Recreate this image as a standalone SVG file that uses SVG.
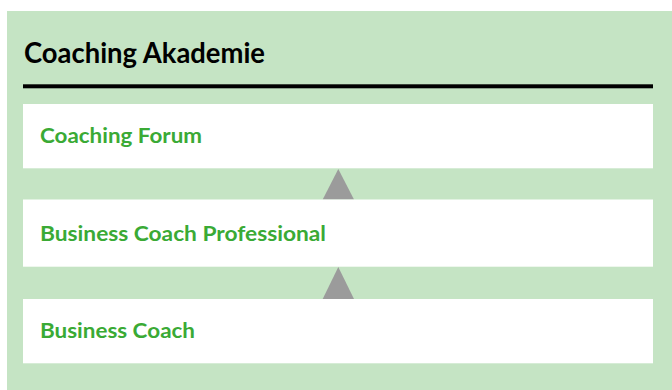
<svg xmlns="http://www.w3.org/2000/svg" width="672" height="390" viewBox="0 0 672 390">
<style>
.bg{fill:#c5e4c4}
.box{fill:#ffffff}
.lbl{font-family:Lato,"Open Sans","Liberation Sans",sans-serif;font-weight:bold;font-size:21px;fill:#3aaa35}
.title{font-family:Lato,"Open Sans","Liberation Sans",sans-serif;font-weight:bold;font-size:28px;fill:#000000}
.tri{fill:#9b9b9b}
</style>
<rect width="672" height="390" fill="#ffffff"/>
<g id="container">
<rect class="bg" x="7" y="11" width="665" height="379"/>
<text class="title" x="24" y="63" textLength="241" lengthAdjust="spacingAndGlyphs">Coaching Akademie</text>
<rect x="23" y="84.3" width="630" height="4" fill="#000000"/>
</g>
<g id="connectors">
<polygon class="tri" points="338.3,169 322.7,199.5 354,199.5"/>
<polygon class="tri" points="338.3,267 322.7,299 354,299"/>
</g>
<g id="coaching-forum">
<rect class="box" x="23" y="104" width="630" height="64.3"/>
<text class="lbl" x="40" y="143.3" textLength="162" lengthAdjust="spacingAndGlyphs">Coaching Forum</text>
</g>
<g id="business-coach-professional">
<rect class="box" x="23" y="199.5" width="630" height="67.2"/>
<text class="lbl" x="40" y="240.7" textLength="286" lengthAdjust="spacingAndGlyphs">Business Coach Professional</text>
</g>
<g id="business-coach">
<rect class="box" x="23" y="299" width="630" height="64.3"/>
<text class="lbl" x="40" y="337.7" textLength="155" lengthAdjust="spacingAndGlyphs">Business Coach</text>
</g>
</svg>
